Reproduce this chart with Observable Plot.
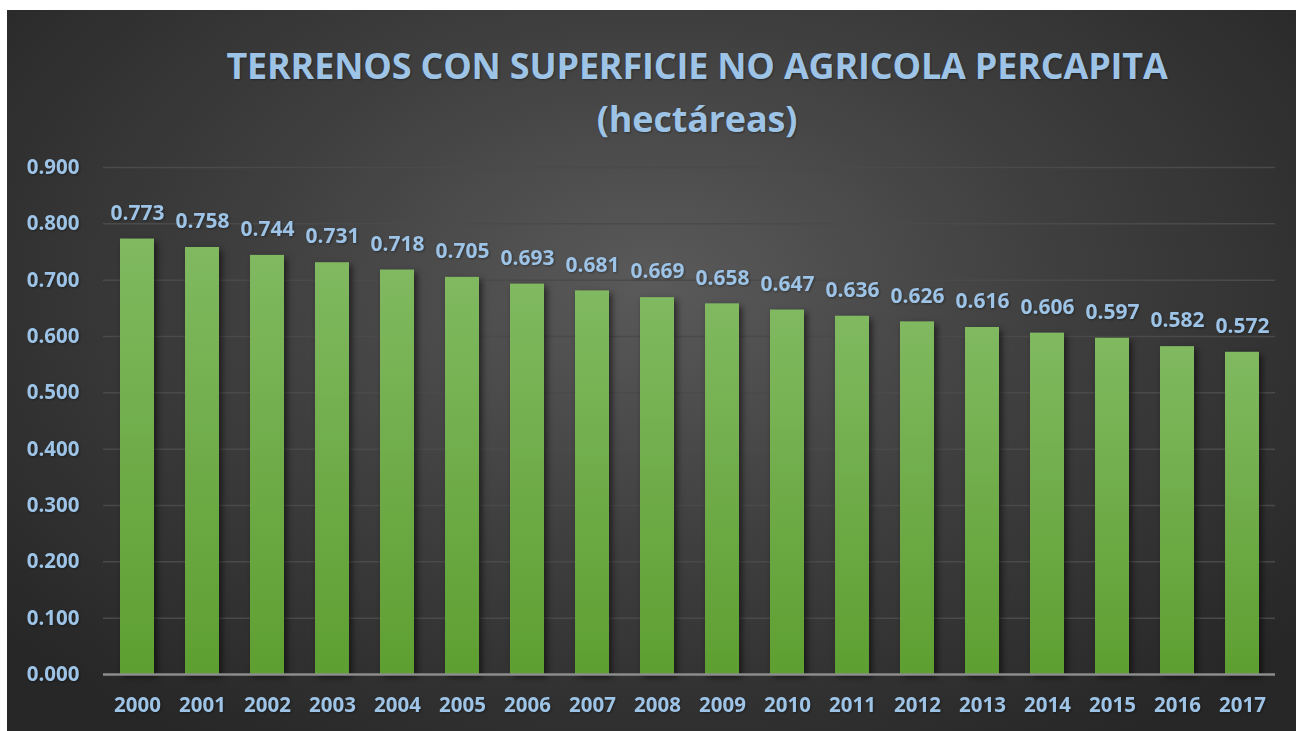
<!DOCTYPE html>
<html>
<head>
<meta charset="utf-8">
<script src="https://cdn.jsdelivr.net/npm/d3@7"></script>
<script src="https://cdn.jsdelivr.net/npm/@observablehq/plot@0.6"></script>
<style>
  html, body { margin: 0; padding: 0; background: #ffffff; }
  #panel {
    position: absolute; left: 7px; top: 10px; width: 1289px; height: 721px;
    background: radial-gradient(ellipse 65% 75% at 50% 38%, #5a5a5a 0%, #3e3e3e 50%, #272727 100%);
    overflow: hidden;
    font-family: "Open Sans", sans-serif;
  }
  #title {
    height: 135px; box-sizing: border-box; padding-top: 29px; padding-left: 91px;
    text-align: center; color: #9DC3E6; font-weight: 700; font-size: 36px; line-height: 53px;
    letter-spacing: -0.2px;
    text-shadow: 1px 1px 2px rgba(0,0,0,0.35);
  }
</style>
</head>
<body>
<div id="panel">
  <div id="title">TERRENOS CON SUPERFICIE NO AGRICOLA PERCAPITA<br>(hectáreas)</div>
  <div id="chart"></div>
</div>
<script>
const years = ["2000","2001","2002","2003","2004","2005","2006","2007","2008","2009","2010","2011","2012","2013","2014","2015","2016","2017"];
const values = [0.773,0.758,0.744,0.731,0.718,0.705,0.693,0.681,0.669,0.658,0.647,0.636,0.626,0.616,0.606,0.597,0.582,0.572];
const yTicks = [0,0.1,0.2,0.3,0.4,0.5,0.6,0.7,0.8,0.9];

const data = years.map((y, i) => ({year: y, value: values[i]}));
const labelColor = "#9DC3E6";

const plot = Plot.plot({
  width: 1289,
  height: 586,
  marginTop: 22,
  marginBottom: 57,
  marginLeft: 96,
  marginRight: 21,
  style: {
    background: "transparent",
    color: labelColor,
    fontFamily: "'Open Sans', sans-serif",
    fontSize: "20.5px",
    fontWeight: "bold",
    overflow: "visible"
  },
  x: {domain: years, paddingInner: 0.48, paddingOuter: 0.24, tickSize: 0, tickPadding: 23, label: null},
  y: {domain: [0, 0.9], ticks: yTicks, tickFormat: d3.format(".3f"), tickSize: 0, tickPadding: 24, label: null},
  marks: [
    Plot.ruleY(yTicks.filter(d => d > 0), {stroke: "#4a4a4a", strokeWidth: 1.5}),
    Plot.barY(data, {x: "year", y: "value", fill: "url(#barGrad)"}),
    Plot.ruleY([0], {stroke: "#8c8c8c", strokeWidth: 2.5}),
    Plot.text(data, {x: "year", y: "value", text: d => d3.format(".3f")(d.value), dy: -26, fill: labelColor, fontSize: 21, fontWeight: "bold"})
  ]
});

const svg = d3.select(plot);
const defs = svg.insert("defs", ":first-child");
const g = defs.append("linearGradient").attr("id", "barGrad").attr("x1", 0).attr("y1", 0).attr("x2", 0).attr("y2", 1);
g.append("stop").attr("offset", "0%").attr("stop-color", "#80b960");
g.append("stop").attr("offset", "100%").attr("stop-color", "#5e9f31");
svg.selectAll("g[aria-label='bar']").style("filter", "drop-shadow(3px 3px 3px rgba(0,0,0,0.55))");
svg.selectAll("g[aria-label='text'], g[aria-label='y-axis tick label'], g[aria-label='x-axis tick label'], g[aria-label='y-axis'], g[aria-label='x-axis']")
   .style("filter", "drop-shadow(1px 1px 1px rgba(0,0,0,0.35))");

document.getElementById("chart").appendChild(plot);
</script>
</body>
</html>
